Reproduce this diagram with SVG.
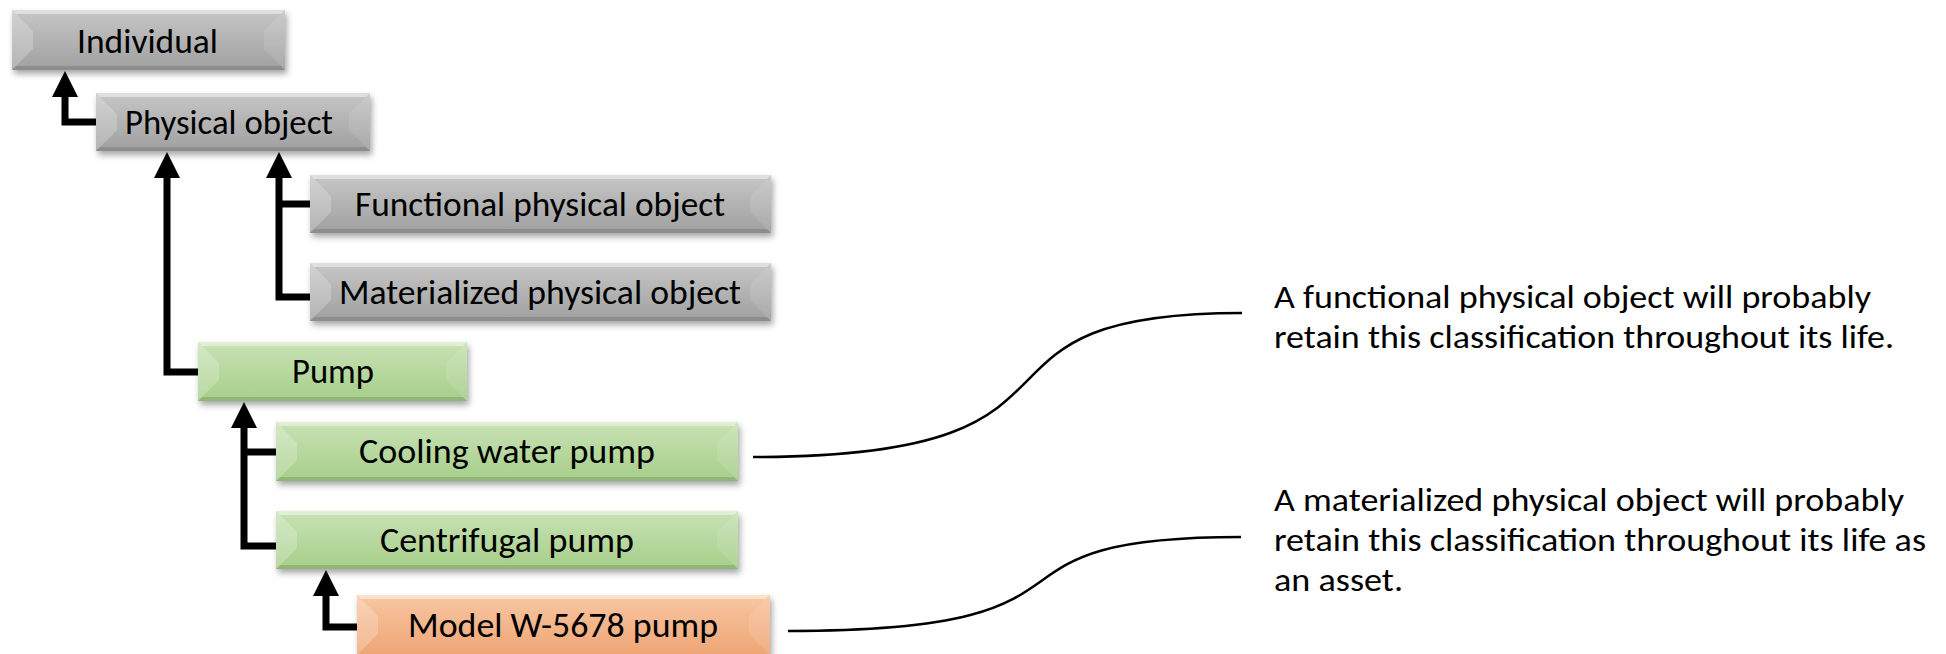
<svg xmlns="http://www.w3.org/2000/svg" width="1946" height="654" viewBox="0 0 1946 654">
<style>
.lbl{font-family:Carlito,"Liberation Sans",Arial,sans-serif;font-size:34px;fill:#000}
.note{font-family:Carlito,"Liberation Sans",Arial,sans-serif;font-size:32px;fill:#000}
.bl{fill:#fff;fill-opacity:.22}
.br{fill:#fff;fill-opacity:.10}
.bt{fill:#fff;fill-opacity:.45}
.bb{fill:#000;fill-opacity:.12}
.conn{fill:none;stroke:#000;stroke-width:7;stroke-linejoin:miter;stroke-linecap:butt}
.call{fill:none;stroke:#000;stroke-width:2.5}
</style>
<defs>
<linearGradient id="gGray" x1="0" y1="0" x2="0" y2="1">
<stop offset="0" stop-color="#c6c6c6"/><stop offset="1" stop-color="#a0a0a0"/>
</linearGradient>
<linearGradient id="gGreen" x1="0" y1="0" x2="0" y2="1">
<stop offset="0" stop-color="#c8e2b5"/><stop offset="1" stop-color="#a6ce89"/>
</linearGradient>
<linearGradient id="gOrange" x1="0" y1="0" x2="0" y2="1">
<stop offset="0" stop-color="#f8c7a3"/><stop offset="1" stop-color="#eea574"/>
</linearGradient>
<filter id="sh" x="-5%" y="-20%" width="115%" height="150%">
<feDropShadow dx="2" dy="4" stdDeviation="3" flood-color="#000" flood-opacity="0.35"/>
</filter>
<marker id="arr" markerUnits="userSpaceOnUse" markerWidth="26" markerHeight="26" viewBox="0 0 26 26" refX="0" refY="13" orient="auto">
<path d="M0,0 L26,13 L0,26 z" fill="#000"/>
</marker>
</defs>

<g id="connectors">
<path class="conn" d="M96,122 H65 V97" marker-end="url(#arr)"/>
<path class="conn" d="M198,372 H167 V178" marker-end="url(#arr)"/>
<path class="conn" d="M310,297 H279 V178" marker-end="url(#arr)"/>
<path class="conn" d="M310,204 H279"/>
<path class="conn" d="M276,546 H244 V428" marker-end="url(#arr)"/>
<path class="conn" d="M276,452 H244"/>
<path class="conn" d="M357,627 H326 V596" marker-end="url(#arr)"/>
</g>

<g id="n-individual">
<rect x="12" y="10" width="273" height="60" fill="url(#gGray)" filter="url(#sh)"/>
<path class="bl" d="M12,10 l21,21 v18 l-21,21 z"/>
<path class="br" d="M285,10 l-21,21 v18 l21,21 z"/>
<path class="bt" d="M12,10 h273 l-4,4 h-265 z"/>
<path class="bb" d="M12,70 h273 l-4,-4 h-265 z"/>
<text class="lbl" x="77" y="53" textLength="141" lengthAdjust="spacingAndGlyphs">Individual</text>
</g>

<g id="n-physical">
<rect x="96" y="93" width="274" height="58" fill="url(#gGray)" filter="url(#sh)"/>
<path class="bl" d="M96,93 l21,21 v16 l-21,21 z"/>
<path class="br" d="M370,93 l-21,21 v16 l21,21 z"/>
<path class="bt" d="M96,93 h274 l-4,4 h-266 z"/>
<path class="bb" d="M96,151 h274 l-4,-4 h-266 z"/>
<text class="lbl" x="125" y="134" textLength="208" lengthAdjust="spacingAndGlyphs">Physical object</text>
</g>

<g id="n-functional">
<rect x="310" y="175" width="461" height="58" fill="url(#gGray)" filter="url(#sh)"/>
<path class="bl" d="M310,175 l21,21 v16 l-21,21 z"/>
<path class="br" d="M771,175 l-21,21 v16 l21,21 z"/>
<path class="bt" d="M310,175 h461 l-4,4 h-453 z"/>
<path class="bb" d="M310,233 h461 l-4,-4 h-453 z"/>
<text class="lbl" x="355" y="216" textLength="370" lengthAdjust="spacingAndGlyphs">Functional physical object</text>
</g>

<g id="n-materialized">
<rect x="310" y="263" width="461" height="58" fill="url(#gGray)" filter="url(#sh)"/>
<path class="bl" d="M310,263 l21,21 v16 l-21,21 z"/>
<path class="br" d="M771,263 l-21,21 v16 l21,21 z"/>
<path class="bt" d="M310,263 h461 l-4,4 h-453 z"/>
<path class="bb" d="M310,321 h461 l-4,-4 h-453 z"/>
<text class="lbl" x="339" y="304" textLength="402" lengthAdjust="spacingAndGlyphs">Materialized physical object</text>
</g>

<g id="n-pump">
<rect x="198" y="342" width="269" height="59" fill="url(#gGreen)" filter="url(#sh)"/>
<path class="bl" d="M198,342 l21,21 v17 l-21,21 z"/>
<path class="br" d="M467,342 l-21,21 v17 l21,21 z"/>
<path class="bt" d="M198,342 h269 l-4,4 h-261 z"/>
<path class="bb" d="M198,401 h269 l-4,-4 h-261 z"/>
<text class="lbl" x="292" y="383" textLength="82" lengthAdjust="spacingAndGlyphs">Pump</text>
</g>

<g id="n-cooling">
<rect x="276" y="422" width="462" height="59" fill="url(#gGreen)" filter="url(#sh)"/>
<path class="bl" d="M276,422 l21,21 v17 l-21,21 z"/>
<path class="br" d="M738,422 l-21,21 v17 l21,21 z"/>
<path class="bt" d="M276,422 h462 l-4,4 h-454 z"/>
<path class="bb" d="M276,481 h462 l-4,-4 h-454 z"/>
<text class="lbl" x="359" y="463" textLength="296" lengthAdjust="spacingAndGlyphs">Cooling water pump</text>
</g>

<g id="n-centrifugal">
<rect x="276" y="511" width="462" height="58" fill="url(#gGreen)" filter="url(#sh)"/>
<path class="bl" d="M276,511 l21,21 v16 l-21,21 z"/>
<path class="br" d="M738,511 l-21,21 v16 l21,21 z"/>
<path class="bt" d="M276,511 h462 l-4,4 h-454 z"/>
<path class="bb" d="M276,569 h462 l-4,-4 h-454 z"/>
<text class="lbl" x="380" y="552" textLength="254" lengthAdjust="spacingAndGlyphs">Centrifugal pump</text>
</g>

<g id="n-model">
<rect x="357" y="595" width="413" height="60" fill="url(#gOrange)" filter="url(#sh)"/>
<path class="bl" d="M357,595 l21,21 v18 l-21,21 z"/>
<path class="br" d="M770,595 l-21,21 v18 l21,21 z"/>
<path class="bt" d="M357,595 h413 l-4,4 h-405 z"/>
<text class="lbl" x="408" y="637" textLength="310" lengthAdjust="spacingAndGlyphs">Model W-5678 pump</text>
</g>

<g id="callouts">
<path class="call" d="M753,457 C1132,457 931,313 1242,313"/>
<path class="call" d="M788,631 C1137,631 952,537 1241,537"/>
</g>

<g id="note-functional">
<text class="note" x="1274" y="308" textLength="597" lengthAdjust="spacingAndGlyphs">A functional physical object will probably</text>
<text class="note" x="1274" y="348" textLength="620" lengthAdjust="spacingAndGlyphs">retain this classification throughout its life.</text>
</g>
<g id="note-materialized">
<text class="note" x="1274" y="511" textLength="630" lengthAdjust="spacingAndGlyphs">A materialized physical object will probably</text>
<text class="note" x="1274" y="551" textLength="652" lengthAdjust="spacingAndGlyphs">retain this classification throughout its life as</text>
<text class="note" x="1274" y="591" textLength="129" lengthAdjust="spacingAndGlyphs">an asset.</text>
</g>
</svg>
